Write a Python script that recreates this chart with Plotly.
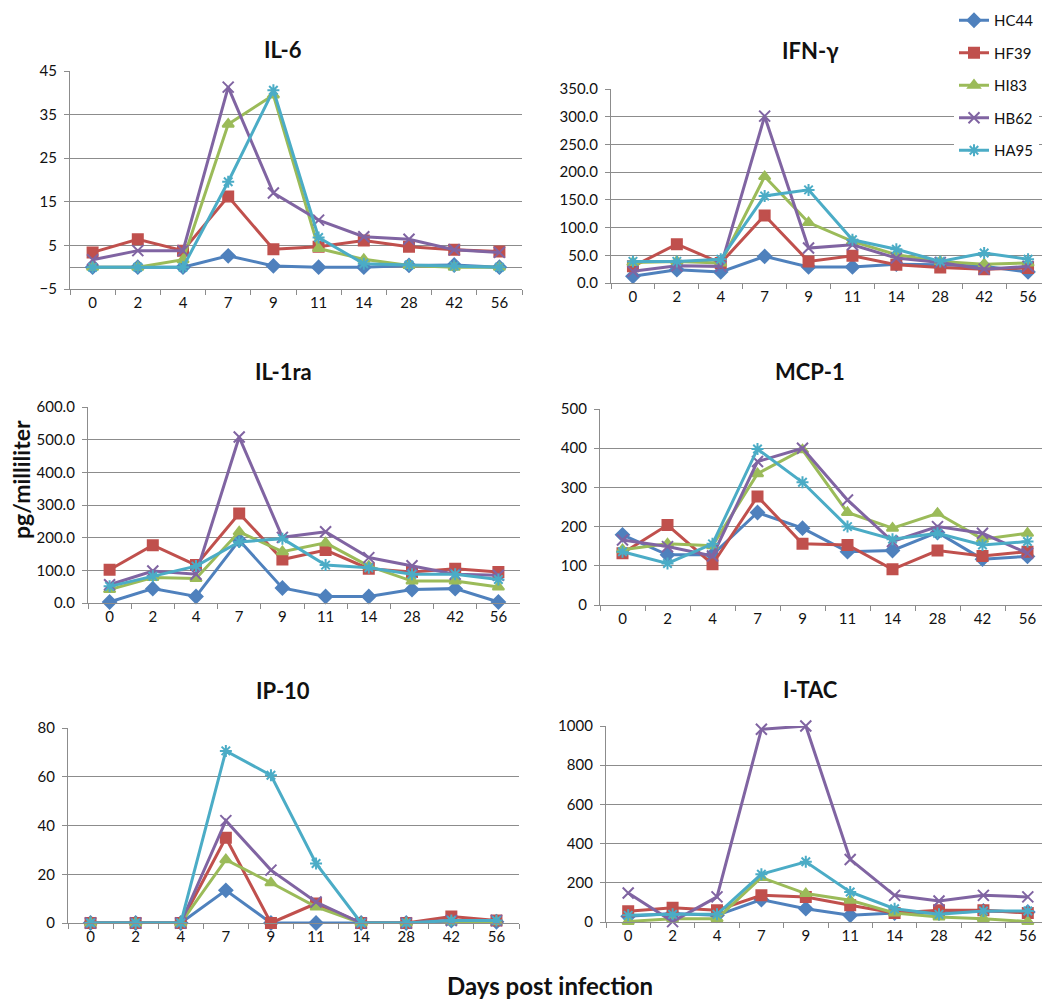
import plotly.graph_objects as go

days = ["0", "2", "4", "7", "9", "11", "14", "28", "42", "56"]
series_names = ["HC44", "HF39", "HI83", "HB62", "HA95"]
series_colors = ["#4F81BD", "#C0504D", "#9BBB59", "#8064A2", "#4BACC6"]
series_symbols = ["diamond", "square", "triangle-up", "x-thin-open", "asterisk-open"]

il6 = {
    "HC44": [0, 0, 0, 2.6, 0.3, 0, 0, 0.4, 0.5, 0],
    "HF39": [3.4, 6.4, 3.8, 16.2, 4.1, 4.7, 6.1, 4.7, 4.0, 3.6],
    "HI83": [0, 0, 1.7, 32.8, 39.5, 4.3, 1.8, 0.4, 0, 0],
    "HB62": [1.7, 3.8, 3.8, 41.3, 17.0, 10.8, 7.0, 6.4, 4.0, 3.4],
    "HA95": [0, 0, 0, 19.6, 40.6, 6.8, 0.8, 0.5, 0.3, 0],
}
ifng = {
    "HC44": [12, 24, 20, 48, 29, 29, 34, 33, 30, 20],
    "HF39": [30, 70, 36, 122, 39, 49, 33, 28, 25, 27],
    "HI83": [37, 39, 36, 192, 109, 75, 51, 39, 34, 36],
    "HB62": [21, 31, 30, 301, 63, 69, 45, 37, 25, 30],
    "HA95": [39, 39, 43, 157, 168, 78, 61, 39, 54, 43],
}
il1ra = {
    "HC44": [3, 44, 20, 192, 46, 20, 20, 41, 44, 3],
    "HF39": [102, 177, 116, 274, 133, 162, 105, 95, 105, 95],
    "HI83": [41, 78, 75, 218, 157, 184, 113, 67, 67, 49],
    "HB62": [56, 98, 88, 508, 201, 218, 139, 114, 88, 85],
    "HA95": [51, 82, 113, 187, 197, 116, 108, 88, 88, 72],
}
mcp1 = {
    "HC44": [179, 128, 128, 236, 196, 136, 139, 185, 117, 124],
    "HF39": [132, 204, 104, 277, 156, 153, 91, 139, 125, 136],
    "HI83": [141, 156, 151, 335, 396, 236, 196, 234, 168, 183],
    "HB62": [166, 149, 125, 366, 400, 268, 162, 200, 183, 132],
    "HA95": [136, 106, 156, 398, 313, 200, 168, 183, 153, 162],
}
ip10 = {
    "HC44": [0, 0, 0, 13.4, 0, 0, 0, 0, 1, 0.5],
    "HF39": [0, 0, 0, 35, 0, 8, 0, 0, 2.7, 1],
    "HI83": [0, 0, 0, 26, 16.5, 6.6, 0, 0, 0.5, 0.5],
    "HB62": [0, 0, 0, 42, 21.7, 8.6, 0, 0, 1, 1],
    "HA95": [0, 0, 0, 70.6, 60.6, 24.4, 0, 0, 1, 1],
}
itac = {
    "HC44": [29, 43, 34, 114, 68, 34, 46, 46, 56, 51],
    "HF39": [55, 73, 60, 136, 128, 85, 46, 60, 60, 46],
    "HI83": [3, 17, 17, 227, 145, 111, 46, 26, 17, 2],
    "HB62": [148, 2, 128, 983, 1000, 319, 136, 107, 136, 128],
    "HA95": [34, 39, 39, 244, 307, 153, 68, 39, 56, 56],
}

panel_titles = ["IL-6", "IFN-γ", "IL-1ra", "MCP-1", "IP-10", "I-TAC"]
panel_data = [il6, ifng, il1ra, mcp1, ip10, itac]
y_ranges = [[-5, 45], [0, 350], [0, 600], [0, 500], [0, 80], [0, 1000]]
y_dticks = [10, 50, 100, 100, 20, 200]
y_formats = ["", ".1f", ".1f", "", "", ""]

# Page geometry (page pixels). The HTML body has an 8px default margin,
# so the figure is made 8px smaller and everything is offset by 8px.
OFF = 8
W, H = 1050 - OFF, 1000 - OFF


def px(x):
    return (x - OFF) / W


def py(y):
    return 1 - (y - OFF) / H


boxes = [(70, 522, 71, 289), (611, 1050, 89, 283), (88, 520, 407, 603),
         (600, 1050, 409, 605), (68, 519, 728, 923), (606, 1050, 726, 922)]
title_pos = [(283, 49), (810, 51), (283, 371), (810, 371), (283, 690), (810, 689)]

FONT = "Lato"
GRID = "#8c8c8c"
TXT = "#111111"

fig = go.Figure()
layout = dict(
    width=W, height=H,
    margin=dict(l=0, r=0, t=0, b=0, autoexpand=False),
    paper_bgcolor="white", plot_bgcolor="white",
    font=dict(family=FONT, size=15, color=TXT),
    showlegend=True,
    legend=dict(x=px(954), y=py(4), xanchor="left", yanchor="top",
                bgcolor="white", font=dict(family=FONT, size=15, color=TXT),
                traceorder="grouped", tracegroupgap=10, itemwidth=30),
    annotations=[],
)

for i, (title, data) in enumerate(zip(panel_titles, panel_data)):
    n = i + 1
    xa = "x" if n == 1 else f"x{n}"
    ya = "y" if n == 1 else f"y{n}"
    l, r, t, b = boxes[i]
    for k, name in enumerate(series_names):
        fig.add_trace(go.Scatter(
            x=days, y=data[name], name=name, xaxis=xa, yaxis=ya,
            mode="lines+markers", cliponaxis=False,
            legendgroup=name, showlegend=(i == 0),
            line=dict(color=series_colors[k], width=3),
            marker=dict(symbol=series_symbols[k], size=10 if k != 3 else 11,
                        color=series_colors[k],
                        line=dict(color=series_colors[k], width=2)),
        ))
    y0 = y_ranges[i][0]
    layout[f"xaxis{'' if n == 1 else n}"] = dict(
        domain=[px(l), min(px(r), 1.0)], anchor=ya, type="category",
        range=[-0.5, 9.5], showgrid=False, showline=True,
        linecolor=GRID, linewidth=1.3,
        ticks="outside", tickson="boundaries", ticklen=5, tickcolor=GRID,
        tickfont=dict(family=FONT, size=15, color=TXT),
        fixedrange=True,
    )
    layout[f"yaxis{'' if n == 1 else n}"] = dict(
        domain=[py(b), py(t)], anchor=xa,
        range=y_ranges[i], tick0=y0, dtick=y_dticks[i], tickformat=y_formats[i],
        showgrid=True, gridcolor=GRID, gridwidth=1.3,
        showline=True, linecolor=GRID, linewidth=1.3,
        zeroline=(y0 < 0), zerolinecolor=GRID, zerolinewidth=1.3,
        ticks="outside", ticklen=5, tickcolor=GRID, ticklabelstandoff=4,
        tickfont=dict(family=FONT, size=15, color=TXT),
        fixedrange=True,
    )
    cx, cy = title_pos[i]
    layout["annotations"].append(dict(
        text=f"<b>{title}</b>", x=px(cx), y=py(cy), xref="paper", yref="paper",
        xanchor="center", yanchor="middle", showarrow=False,
        font=dict(family=FONT, size=22, color=TXT),
    ))

layout["annotations"].append(dict(
    text="<b>pg/milliliter</b>", x=px(21), y=py(480), xref="paper", yref="paper",
    xanchor="center", yanchor="middle", showarrow=False, textangle=-90,
    font=dict(family=FONT, size=23, color=TXT),
))
layout["annotations"].append(dict(
    text="<b>Days post infection</b>", x=px(550), y=py(985), xref="paper", yref="paper",
    xanchor="center", yanchor="middle", showarrow=False,
    font=dict(family=FONT, size=24, color=TXT),
))

fig.update_layout(**layout)
fig.write_html("out.html")
